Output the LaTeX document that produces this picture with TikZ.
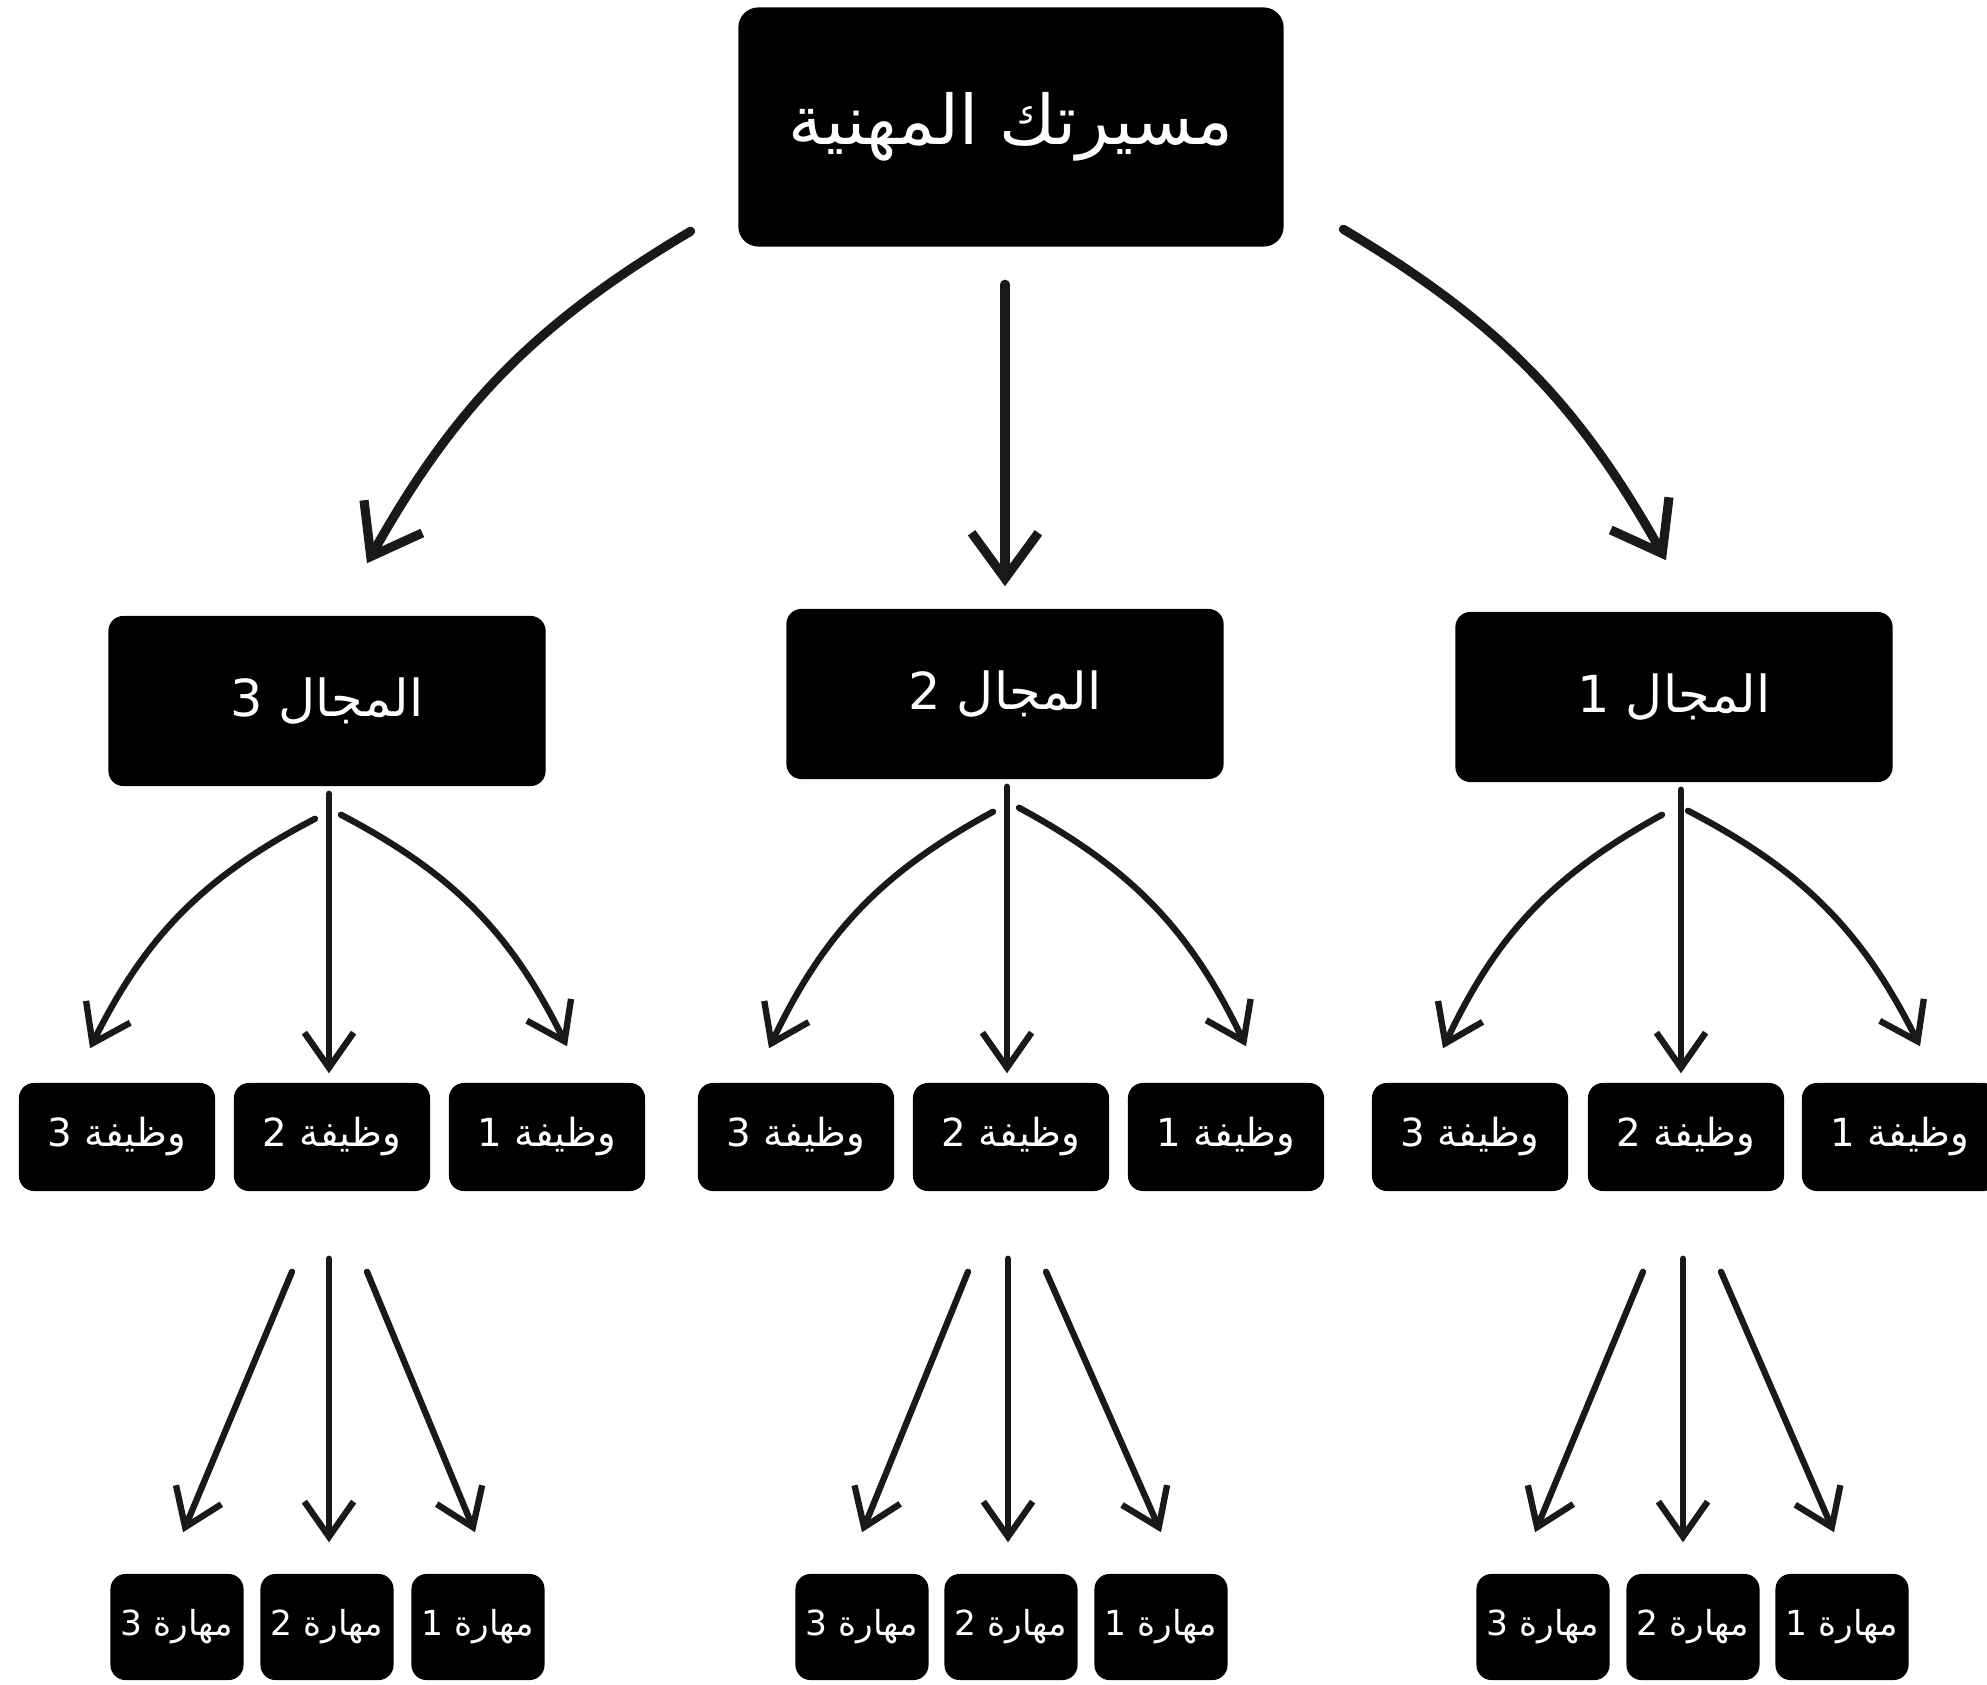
\documentclass[tikz,border=0pt]{standalone}
\usepackage{fontspec}
\newfontfamily\arabicfont[Script=Arabic]{DejaVu Sans}
\TeXXeTstate=1
\usetikzlibrary{arrows.meta,calc}
\tikzset{
  box/.style={fill=black, text=white, rounded corners=0.15cm, inner sep=0pt},
  rootbox/.style={box, minimum width=5.45cm, minimum height=2.39cm, rounded corners=0.2cm, font={\arabicfont\fontsize{19.5}{23}\selectfont}},
  fieldbox/.style={box, minimum width=4.37cm, minimum height=1.7cm, font={\arabicfont\fontsize{14.5}{17}\selectfont}},
  jobbox/.style={box, minimum width=1.96cm, minimum height=1.08cm, font={\arabicfont\fontsize{11}{13}\selectfont}},
  skillbox/.style={box, minimum width=1.33cm, minimum height=1.06cm, font={\arabicfont\fontsize{9.8}{12}\selectfont}},
  biglink/.style={draw=black!90, line width=2.6pt, line cap=round, -{Straight Barb[length=13pt,width=19pt,line width=2.6pt]}},
  link/.style={draw=black!90, line width=1.8pt, line cap=round, -{Straight Barb[length=10pt,width=14pt,line width=1.8pt]}}
}
\begin{document}
\begin{tikzpicture}[x=0.01cm, y=-0.01cm]
  \useasboundingbox (0,0) rectangle (1987,1685);
  \node[rootbox] (root) at (1011,127) {\beginR مسيرتك المهنية\endR};
  \node[fieldbox] (f1) at (1674,697) {\beginR المجال 1\endR};
  \node[fieldbox] (f2) at (1005,694) {\beginR المجال 2\endR};
  \node[fieldbox] (f3) at (327,701) {\beginR المجال 3\endR};

  \node[jobbox] (j11) at (1900,1137) {\beginR وظيفة 1\endR};
  \node[jobbox] (j12) at (1686,1137) {\beginR وظيفة 2\endR};
  \node[jobbox] (j13) at (1470,1137) {\beginR وظيفة 3\endR};
  \node[jobbox] (j21) at (1226,1137) {\beginR وظيفة 1\endR};
  \node[jobbox] (j22) at (1011,1137) {\beginR وظيفة 2\endR};
  \node[jobbox] (j23) at (796,1137) {\beginR وظيفة 3\endR};
  \node[jobbox] (j31) at (547,1137) {\beginR وظيفة 1\endR};
  \node[jobbox] (j32) at (332,1137) {\beginR وظيفة 2\endR};
  \node[jobbox] (j33) at (117,1137) {\beginR وظيفة 3\endR};

  \node[skillbox] (s11) at (1842,1627) {\beginR مهارة 1\endR};
  \node[skillbox] (s12) at (1693,1627) {\beginR مهارة 2\endR};
  \node[skillbox] (s13) at (1543,1627) {\beginR مهارة 3\endR};
  \node[skillbox] (s21) at (1161,1627) {\beginR مهارة 1\endR};
  \node[skillbox] (s22) at (1011,1627) {\beginR مهارة 2\endR};
  \node[skillbox] (s23) at (862,1627) {\beginR مهارة 3\endR};
  \node[skillbox] (s31) at (478,1627) {\beginR مهارة 1\endR};
  \node[skillbox] (s32) at (327,1627) {\beginR مهارة 2\endR};
  \node[skillbox] (s33) at (177,1627) {\beginR مهارة 3\endR};

  \draw[biglink] ($(root.south west)+(-47,-16)$) to[bend right=15] ($(f3.north)+(40,-52)$);
  \draw[biglink] ($(root.south)+(-6,37)$) -- ($(f2.north)+(0,-22)$);
  \draw[biglink] ($(root.south east)+(59,-18)$) to[bend left=15] ($(f1.north)+(-8,-51)$);

  \draw[link] ($(f1.south)+(-12,32)$) to[bend right=18] ($(j13.north)+(-27,-34)$);
  \draw[link] ($(f1.south)+(7,7)$) -- ($(f1.south |- j12.north)+(7,-9)$);
  \draw[link] ($(f1.south)+(14,28)$) to[bend left=18] ($(j11.north)+(20,-36)$);
  \draw[link] ($(f2.south)+(-12,32)$) to[bend right=18] ($(j23.north)+(-27,-34)$);
  \draw[link] ($(f2.south)+(2,7)$) -- ($(f2.south |- j22.north)+(2,-9)$);
  \draw[link] ($(f2.south)+(14,28)$) to[bend left=18] ($(j21.north)+(20,-36)$);
  \draw[link] ($(f3.south)+(-12,32)$) to[bend right=18] ($(j33.north)+(-27,-34)$);
  \draw[link] ($(f3.south)+(2,7)$) -- ($(f3.south |- j32.north)+(2,-9)$);
  \draw[link] ($(f3.south)+(14,28)$) to[bend left=18] ($(j31.north)+(20,-36)$);

  \draw[link] ($(j12.south)+(-43,80)$) -- ($(s13.north)+(-8,-41)$);
  \draw[link] ($(j12.south)+(-3,67)$) -- ($(s12.north)+(-10,-31)$);
  \draw[link] ($(j12.south)+(35,80)$) -- ($(s11.north)+(-8,-41)$);
  \draw[link] ($(j22.south)+(-43,80)$) -- ($(s23.north)+(0,-41)$);
  \draw[link] ($(j22.south)+(-3,67)$) -- ($(s22.north)+(-3,-31)$);
  \draw[link] ($(j22.south)+(35,80)$) -- ($(s21.north)+(0,-41)$);
  \draw[link] ($(j32.south)+(-40,80)$) -- ($(s33.north)+(6,-41)$);
  \draw[link] ($(j32.south)+(-3,67)$) -- ($(s32.north)+(2,-31)$);
  \draw[link] ($(j32.south)+(35,80)$) -- ($(s31.north)+(-3,-41)$);
\end{tikzpicture}
\end{document}
